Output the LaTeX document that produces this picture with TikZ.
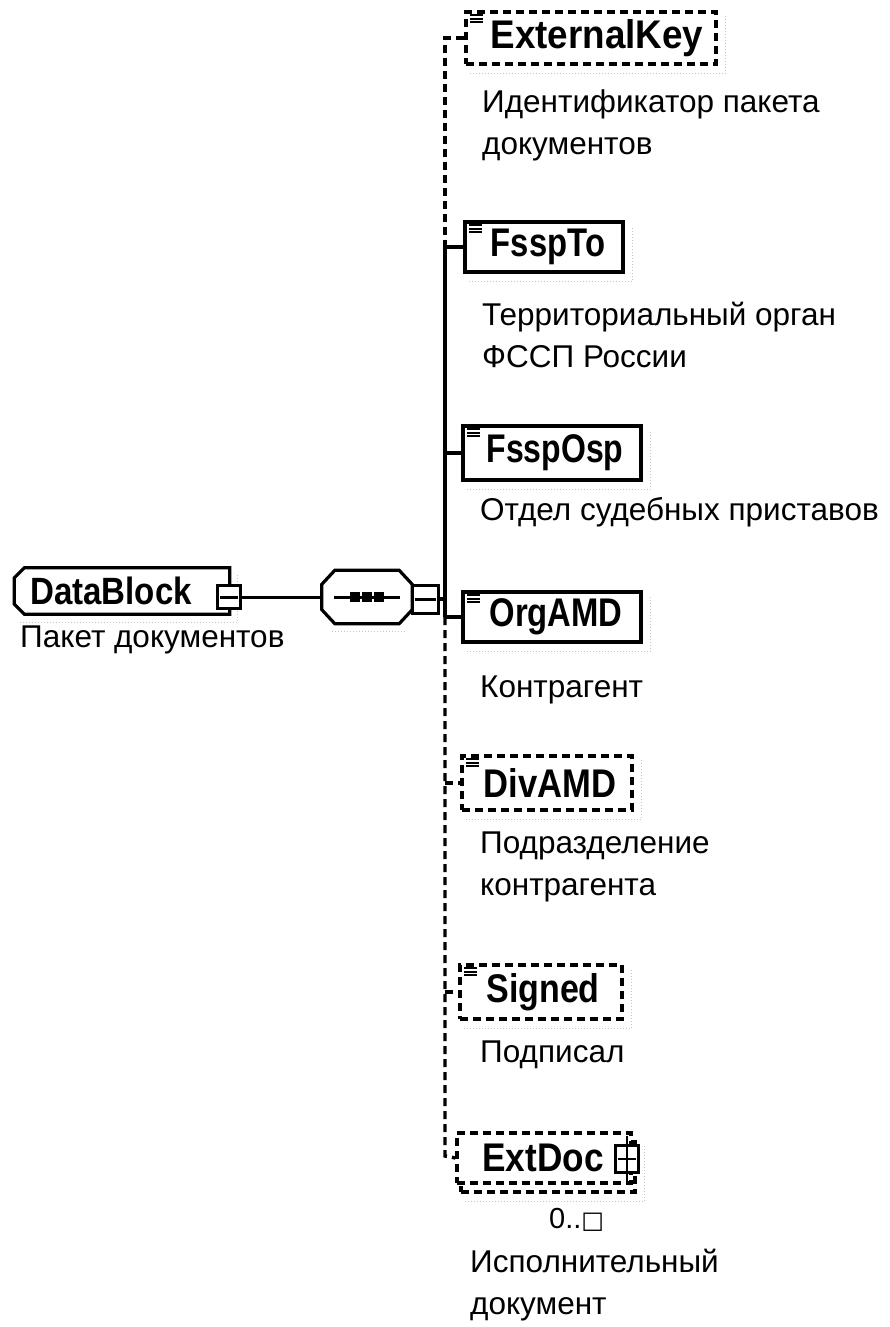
\documentclass[tikz,border=0pt]{standalone}
\usepackage{graphicx}
\usepackage{fontspec}
\setmainfont{Liberation Sans}
\newfontfamily\namefont{Liberation Sans}
\newfontfamily\symfont{DejaVu Sans}
\newcommand\nmtext[2]{\scalebox{#1}[1]{#2}}
\begin{document}
\begin{tikzpicture}[x=1pt,y=-1pt,
  elem/.style={draw, line width=3.2pt, fill=white, minimum height=52pt, inner sep=0pt,
    font=\namefont\fontsize{40}{40}\bfseries\selectfont},
  opt/.style={elem, dash pattern=on 8pt off 5pt},
  desc/.style={anchor=west, align=left, inner sep=0pt,
    font=\fontsize{31.5}{42}\selectfont},
  bus/.style={line width=3.4pt},
  dbus/.style={line width=3.4pt, dash pattern=on 8pt off 5pt},
  shade/.style={gray!45, line width=1pt, dotted},
  sqbox/.style={draw, line width=3pt, fill=white, inner sep=0pt},
  dot/.style={fill=black, minimum size=10pt, inner sep=0pt}]

\useasboundingbox (0,0) rectangle (889,1327);

\newcommand\elemicon[1]{\foreach \dy in {5,8.5,12}{\draw[line width=2pt] ([shift={(6,\dy)}]#1.north west) -- +(13,0);}}
\newcommand\boxshade[1]{\draw[shade] ([shift={(6,8)}]#1.south west) -- ([shift={(8,8)}]#1.south east) -- ([shift={(8,6)}]#1.north east);}

% ---------- DataBlock ----------
\node[minimum width=215pt, minimum height=46pt, inner sep=0pt,
  font=\namefont\fontsize{38}{38}\bfseries\selectfont] (db) at (122,591) {\nmtext{0.87}{DataBlock}\hspace*{22pt}};
\draw[line width=3.2pt] ([xshift=10pt]db.north west) -- (db.north east) -- (db.south east)
  -- ([xshift=10pt]db.south west) -- ([yshift=10pt]db.south west) -- ([yshift=-10pt]db.north west) -- cycle;
\boxshade{db}
\node[sqbox, minimum width=23pt, minimum height=23pt] (dbm) at (229,597) {};
\draw[line width=3pt] ([xshift=4pt]dbm.west) -- ([xshift=-4pt]dbm.east);
\node[desc] (dbd) at (20,640) {Пакет документов};

% ---------- sequence compositor ----------
\node[minimum width=90pt, minimum height=53pt, inner sep=0pt] (seq) at (367,597) {};
\draw[line width=3.2pt] ([xshift=13pt]seq.north west) -- ([xshift=-13pt]seq.north east)
  -- ([yshift=-14pt]seq.north east) -- ([yshift=14pt]seq.south east)
  -- ([xshift=-13pt]seq.south east) -- ([xshift=13pt]seq.south west)
  -- ([yshift=14pt]seq.south west) -- ([yshift=-14pt]seq.north west) -- cycle;
\draw[gray!45, line width=1pt, dotted] ([shift={(10,8)}]seq.south west) -- ([shift={(-6,8)}]seq.south east);
\draw[line width=3pt] ([xshift=-33pt]seq.center) -- ([xshift=33pt]seq.center);
\node[dot] (s1) at ([xshift=-12pt]seq.center) {};
\node[dot] (s2) at (seq.center) {};
\node[dot] (s3) at ([xshift=12pt]seq.center) {};
\node[sqbox, minimum width=26pt, minimum height=28pt] (seqm) at (425,599) {};
\draw[line width=3pt] ([xshift=4pt]seqm.west) -- ([xshift=-4pt]seqm.east);
\draw[line width=3pt] (dbm.east) -- (seq.west);

% ---------- children ----------
\node[opt, minimum width=250pt] (ek) at (591,38) {\hspace*{12pt}\nmtext{0.92}{ExternalKey}};
\node[elem, minimum width=158pt, minimum height=50pt] (fto) at (544,247) {\hspace*{8pt}\nmtext{0.82}{FsspTo}};
\node[elem, minimum width=178pt, minimum height=54pt] (fosp) at (552,453) {\hspace*{6pt}\nmtext{0.80}{FsspOsp}};
\node[elem, minimum width=178pt, minimum height=50pt] (org) at (552,617) {\hspace*{8pt}\nmtext{0.82}{OrgAMD}};
\node[opt, minimum width=170pt, minimum height=54pt] (div) at (547,783) {\hspace*{6pt}\nmtext{0.865}{DivAMD}};
\node[opt, minimum width=162pt, minimum height=54pt] (sig) at (541,992) {\hspace*{4pt}\nmtext{0.85}{Signed}};
\node[opt, minimum width=174pt, minimum height=50pt] (extb) at (548,1167) {};
\node[opt, minimum width=174pt, minimum height=50pt] (ext) at (544,1158) {\nmtext{0.88}{ExtDoc}\hspace*{2pt}};

\foreach \b in {ek,fto,fosp,org,div,sig,extb} {\boxshade{\b}}
\foreach \b in {ek,fto,fosp,org,div,sig} {\elemicon{\b}}

% plus box of ExtDoc
\node[sqbox, line width=2.5pt, minimum width=23pt, minimum height=27pt] (extp) at (627,1159) {};
\draw[line width=2.5pt] ([xshift=4pt]extp.west) -- ([xshift=-4pt]extp.east);
\draw[line width=2.5pt] ([yshift=8pt]extp.north) -- ([yshift=-9pt]extp.south);

% ---------- bus ----------
\coordinate (bek) at (445,38);
\coordinate (bfto) at (445,247);
\coordinate (bfosp) at (445,453);
\coordinate (bseq) at (445,599);
\coordinate (borg) at (445,617);
\coordinate (bdiv) at (445,783);
\coordinate (bsig) at (445,992);
\coordinate (bext) at (445,1156);
\draw[dbus] (ek.west) -- (bek) -- (bfto);
\draw[bus] (bfto) -- (borg);
\draw[dbus] (borg) -- (bext) -- (ext.west);
\draw[bus] (bfto) -- (fto.west);
\draw[bus] (bfosp) -- (fosp.west);
\draw[bus] (borg) -- (org.west);
\draw[dbus] (bdiv) -- (div.west);
\draw[dbus] (bsig) -- (sig.west);
\draw[bus] (seqm.east) -- (bseq);

% ---------- descriptions ----------
\node[desc] (ekd) at (482,125) {Идентификатор пакета\\документов};
\node[desc] (ftod) at (482,335) {Территориальный орган\\ФССП России};
\node[desc] (fospd) at (480,512) {Отдел судебных приставов};
\node[desc] (orgd) at (480,690) {Контрагент};
\node[desc] (divd) at (480,867) {Подразделение\\контрагента};
\node[desc] (sigd) at (480,1055) {Подписал};
\node[desc, font=\fontsize{29}{29}\selectfont] (extc) at (549,1220) {0..{\symfont\fontsize{24}{24}\selectfont □}};
\node[desc] (extd) at (470,1285) {Исполнительный\\документ};
\end{tikzpicture}
\end{document}
